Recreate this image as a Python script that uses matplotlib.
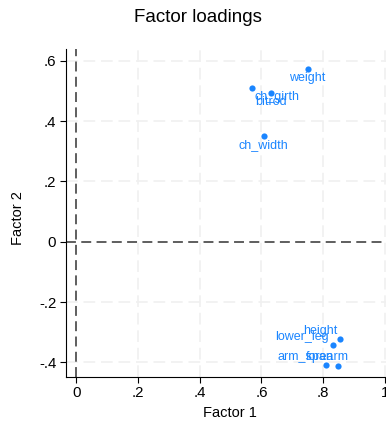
import matplotlib
matplotlib.use("Agg")
import matplotlib.pyplot as plt

variables = ["height", "arm_span", "forearm", "lower_leg", "weight", "bitrod", "ch_girth", "ch_width"]
factor1 = [0.856, 0.848, 0.808, 0.831, 0.750, 0.631, 0.569, 0.607]
factor2 = [-0.324, -0.412, -0.409, -0.342, 0.571, 0.492, 0.510, 0.351]
xticks = [0, 0.2, 0.4, 0.6, 0.8, 1.0]
xticklabels = ["0", ".2", ".4", ".6", ".8", "1"]
yticks = [-0.4, -0.2, 0, 0.2, 0.4, 0.6]
yticklabels = ["-.4", "-.2", "0", ".2", ".4", ".6"]

# label offsets (pixels, screen y downward) of each label centre relative to its point
label_offsets = {
    "height": (-20, -8), "arm_span": (-32, -9), "forearm": (2, -8), "lower_leg": (-31, -8),
    "weight": (0, 9), "bitrod": (0, 9), "ch_girth": (25, 9), "ch_width": (0, 9),
}

plt.rcParams['font.family'] = ['Liberation Sans', 'DejaVu Sans']
blue = "#1a85ff"

W, H = 386, 424
fig = plt.figure(figsize=(W / 100, H / 100), dpi=100)
left, right, top, bottom = 66, 386, 49, 376.7
ax = fig.add_axes([left / W, 1 - bottom / H, (right - left) / W, (bottom - top) / H])

ax.set_xlim(-0.0334, 1.004)
ax.set_ylim(-0.4475, 0.6387)

grid_kw = dict(color="#f0f0f0", lw=1.2, dashes=(7, 3.5), zorder=0)
for xv in xticks[1:]:
    ax.axvline(xv, **grid_kw)
for yv in yticks:
    if yv != 0:
        ax.axhline(yv, **grid_kw)

ref_kw = dict(color="#333333", lw=1.1, dashes=(6.5, 3.5), zorder=1)
ax.axvline(0, **ref_kw)
ax.axhline(0, **ref_kw)

ax.scatter(factor1, factor2, s=20, color=blue, zorder=3, linewidths=0)
for name, xv, yv in zip(variables, factor1, factor2):
    dx, dy = label_offsets[name]
    ax.annotate(name, (xv, yv), xytext=(dx, -dy), textcoords="offset pixels",
                ha="center", va="center", fontsize=9, color=blue, zorder=4)

ax.set_xticks(xticks)
ax.set_xticklabels(xticklabels)
ax.set_yticks(yticks)
ax.set_yticklabels(yticklabels)
ax.tick_params(axis="both", direction="out", length=4.5, width=0.8, color="black",
               labelsize=10.8, pad=2.5)
for s in ["top", "right"]:
    ax.spines[s].set_visible(False)
for s in ["left", "bottom"]:
    ax.spines[s].set_linewidth(0.8)
    ax.spines[s].set_color("black")

fig.text(197.5 / W, 1 - 18 / H, "Factor loadings", ha="center", va="center", fontsize=13.5)
fig.text(229.7 / W, 1 - 413 / H, "Factor 1", ha="center", va="center", fontsize=10.5)
fig.text(17.5 / W, 1 - 218 / H, "Factor 2", ha="center", va="center", fontsize=10.5, rotation=90)

fig.savefig("out.png", dpi=100, facecolor="white")
